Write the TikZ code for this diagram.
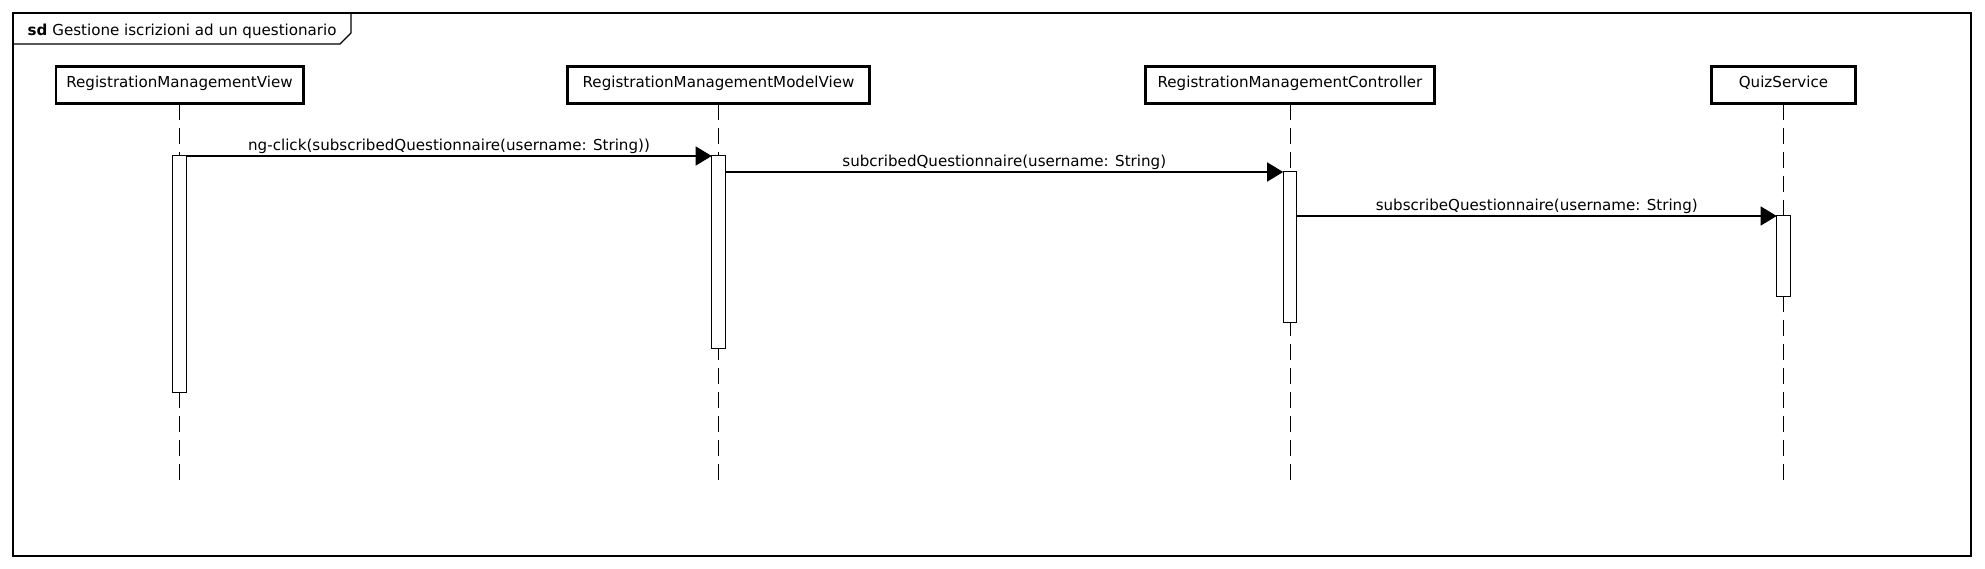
\documentclass[tikz,border=0pt]{standalone}
\usepackage{fontspec}
\setmainfont{DejaVu Sans}
\usetikzlibrary{arrows.meta}
\begin{document}
\begin{tikzpicture}[x=1pt,y=-1pt,
  every node/.style={font=\fontsize{15.1}{18}\selectfont},
  head/.style={draw, line width=2.8pt, minimum height=37.2pt, inner sep=0pt, outer sep=0pt, text height=11pt, text depth=6.2pt},
  bar/.style={draw, fill=white, line width=1pt, minimum width=13.6pt, inner sep=0pt, outer sep=0pt, anchor=north},
  life/.style={line width=1pt, dash pattern=on 16pt off 8pt},
  msg/.style={line width=1.2pt, -{Triangle[length=16pt,width=19pt]}},
  lbl/.style={midway, anchor=base, inner sep=0pt, yshift=5.5pt}
]
\useasboundingbox (0,0) rectangle (1985,569);
% frame
\draw[line width=1.3pt] (13,13) rectangle (1971,556);
\draw[line width=1.3pt] (13,44) -- (340,44) -- (351,33) -- (351,13);
\node[anchor=base west, inner sep=0pt] (title) at (27.5,36) {\textbf{sd} Gestione iscrizioni ad un questionario};
% heads
\node[head, minimum width=247.2pt] (h1) at (179.5,85) {RegistrationManagementView};
\node[head, minimum width=302.2pt] (h2) at (718.5,85) {RegistrationManagementModelView};
\node[head, minimum width=289.2pt] (h3) at (1290,85) {RegistrationManagementController};
\node[head, minimum width=144.2pt] (h4) at (1783.5,85) {QuizService};
% lifeline ends
\coordinate (e1) at (179.5,481);
\coordinate (e2) at (718.5,481);
\coordinate (e3) at (1290,481);
\coordinate (e4) at (1783.5,481);
\draw[life] (h1.south) -- (e1);
\draw[life] (h2.south) -- (e2);
\draw[life] (h3.south) -- (e3);
\draw[life] (h4.south) -- (e4);
% activation bars
\node[bar, minimum height=236pt] (b1) at (179.5,156) {};
\node[bar, minimum height=192pt] (b2) at (718.5,156) {};
\node[bar, minimum height=150pt] (b3) at (1290,172) {};
\node[bar, minimum height=80pt] (b4) at (1783.5,216) {};
% messages
\draw[msg] (b1.north east) -- node[lbl] (m1) {ng-click(subscribedQuestionnaire(username: String))} (b2.north west);
\draw[msg] (b2.east |- b3.north) -- node[lbl] (m2) {subcribedQuestionnaire(username: String)} (b3.north west);
\draw[msg] (b3.east |- b4.north) -- node[lbl] (m3) {subscribeQuestionnaire(username: String)} (b4.north west);
\end{tikzpicture}
\end{document}
